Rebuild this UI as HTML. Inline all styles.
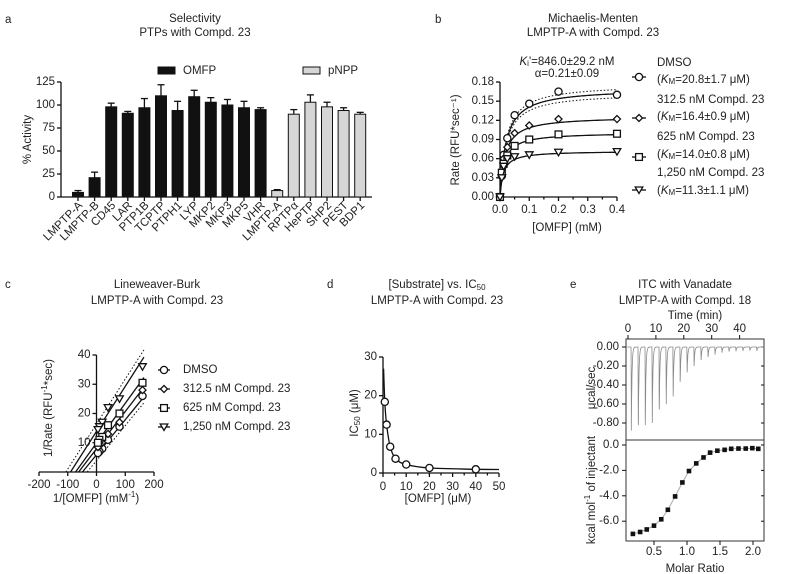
<!DOCTYPE html>
<html><head><meta charset="utf-8">
<style>
html,body{margin:0;padding:0;background:#fff;}
svg{display:block;font-family:"Liberation Sans",Arial,sans-serif;}
text{fill:#222;}
</style></head>
<body>
<svg id="fig" width="800" height="574" viewBox="0 0 800 574" xmlns="http://www.w3.org/2000/svg"></svg>
<script>
// ---------- Panel a data ----------
const aCategories = ["LMPTP-A","LMPTP-B","CD45","LAR","PTP1B","TCPTP","PTPH1","LYP","MKP2","MKP3","MKP5","VHR","LMPTP-A","RPTPα","HePTP","SHP2","PEST","BDP1"];
const aValues = [5,21,98,91,97,110,94,109,103,100,97,95,7,90,103,98,94,90];
const aErrors = [2,6,4,2,10,12,10,7,5,6,7,2,1,5,8,5,3,2];
const aSubstrate = ["OMFP","OMFP","OMFP","OMFP","OMFP","OMFP","OMFP","OMFP","OMFP","OMFP","OMFP","OMFP","pNPP","pNPP","pNPP","pNPP","pNPP","pNPP"];
const aTicks = [0,25,50,75,100,125];
// ---------- Panel b data ----------
const bConc = [0,0.00625,0.0125,0.025,0.05,0.1,0.2,0.4];
const bDMSO = [0,0.033,0.066,0.092,0.128,0.146,0.165,0.160];
const b312 = [0,0.035,0.060,0.078,0.100,0.112,0.122,0.122];
const b625 = [0,0.038,0.052,0.065,0.080,0.090,0.098,0.099];
const b1250 = [0,0.030,0.048,0.060,0.063,0.066,0.070,0.071];
const bVmax = [0.170,0.126,0.101,0.072];
const bKm = [0.0208,0.0164,0.0140,0.0113];
const bYTicks = [0,0.03,0.06,0.09,0.12,0.15,0.18];
const bXTicks = [0,0.1,0.2,0.3,0.4];
const bLegend = ["DMSO","312.5 nM Compd. 23","625 nM Compd. 23","1,250 nM Compd. 23"];
const bLegendKm = ["20.8±1.7","16.4±0.9","14.0±0.8","11.3±1.1"];
// ---------- Panel c data ----------
const cInvS = [160,80,40,20,10,5];
const cDMSO = [26,15.5,11,8,7,6.5];
const c312 = [28,17,13,10,9,8.5];
const c625 = [30.5,20,16,12,11,10];
const c1250 = [36,25,22,17,15.5,14.5];
const cXTicks = [-200,-100,0,100,200];
const cYTicks = [10,20,30,40];
// ---------- Panel d data ----------
const dConc = [0.78,1.56,3.1,5.4,10,20,40];
const dIC50 = [18.4,12.5,6.8,3.7,2.2,1.3,0.96];
const dXTicks = [0,10,20,30,40,50];
const dYTicks = [0,10,20,30];
// ---------- Panel e data ----------
const eInjTimes = [1.1,3.6,6.1,8.6,11.1,13.6,16.1,18.6,21.1,23.6,26.1,28.6,31.1,33.6,36.1,38.6,41.1,43.6,46.1];
const eInjDepth = [-0.88,-0.90,-0.86,-0.80,-0.72,-0.63,-0.52,-0.40,-0.28,-0.20,-0.15,-0.11,-0.08,-0.06,-0.05,-0.045,-0.04,-0.04,-0.04];
const eRatio = [0.18,0.29,0.39,0.50,0.61,0.71,0.82,0.93,1.03,1.14,1.25,1.35,1.46,1.57,1.67,1.78,1.89,1.99,2.08];
const eHeat = [-7.0,-6.85,-6.65,-6.35,-5.85,-5.1,-4.05,-2.95,-2.05,-1.45,-0.98,-0.6,-0.45,-0.38,-0.3,-0.28,-0.28,-0.25,-0.3];
const eTimeTicks = [0,10,20,30,40];
const eUpTicks = [0,-0.2,-0.4,-0.6,-0.8];
const eLowTicks = [0,-2,-4,-6];
const eRatioTicks = [0.5,1.0,1.5,2.0];

const NS = "http://www.w3.org/2000/svg";
const svg = document.getElementById("fig");
function mk(tag, attrs, name, parent) {
  const e = document.createElementNS(NS, tag);
  for (const k in attrs) e.setAttribute(k, attrs[k]);
  
  
  (parent || svg).appendChild(e);
  return e;
}
function txt(x, y, s, name, opts, parent) {
  const o = Object.assign({x:x, y:y, "font-size":11.5, "text-anchor":"middle", "dominant-baseline":"middle"}, opts || {});
  const t = mk("text", o, name, parent);
  t.textContent = s;
  return t;
}
function line(x1,y1,x2,y2,name,opts,parent){
  return mk("line", Object.assign({x1:x1,y1:y1,x2:x2,y2:y2,stroke:"#111","stroke-width":1.3},opts||{}), name, parent);
}
function marker(shape, x, y, name, parent) {
  const st = {fill:"#fff", stroke:"#111", "stroke-width":1.3};
  if (shape === 0) return mk("circle", Object.assign({cx:x, cy:y, r:3.6}, st), name, parent);
  if (shape === 1) return mk("path", Object.assign({d:`M${x} ${y-3.5}L${x+3.5} ${y}L${x} ${y+3.5}L${x-3.5} ${y}Z`}, st), name, parent);
  if (shape === 2) return mk("rect", Object.assign({x:x-3.4, y:y-3.4, width:6.8, height:6.8}, st), name, parent);
  return mk("path", Object.assign({d:`M${x-3.8} ${y-3}L${x+3.8} ${y-3}L${x} ${y+3.5}Z`}, st), name, parent);
}

// ================= Panel a =================
const ga = mk("g", {}, "panel-a-selectivity");
txt(5, 20, "a", "panel-a-label", {"text-anchor":"start"}, ga);
txt(195, 19, "Selectivity", "panel-a-title", {}, ga);
txt(195, 33, "PTPs with Compd. 23", "panel-a-subtitle", {}, ga);
const xa = i => 78 + i * 16.6;
const ya = v => 197 - v * 115 / 125;
line(61, ya(125), 61, 197, "a-y-axis", {}, ga);
line(61, 197, 372, 197, "a-x-axis", {}, ga);
aTicks.forEach(v => {
  line(57, ya(v), 61, ya(v), "a-y-tick", {}, ga);
  txt(55, ya(v), String(v), "a-y-tick-label", {"text-anchor":"end"}, ga);
});
txt(0, 0, "% Activity", "a-y-axis-title", {transform:`translate(28 ${ya(62.5)}) rotate(-90)`}, ga);
aCategories.forEach((c, i) => {
  const cx = xa(i), v = aValues[i], e = aErrors[i];
  const fill = aSubstrate[i] === "OMFP" ? "#111" : "#d6d6d6";
  line(cx, ya(v), cx, ya(v + e), "a-error-bar", {}, ga);
  line(cx - 3.5, ya(v + e), cx + 3.5, ya(v + e), "a-error-cap", {}, ga);
  mk("rect", {x:cx - 5.5, y:ya(v), width:11, height:197 - ya(v), fill:fill, stroke:"#111", "stroke-width":1}, "bar-" + c.toLowerCase(), ga);
  line(cx, 197, cx, 201, "a-x-tick", {}, ga);
  txt(0, 0, c, "a-x-tick-label", {"text-anchor":"end", "dominant-baseline":"auto", transform:`translate(${cx + 5} ${206}) rotate(-45)`}, ga);
});
mk("rect", {x:158, y:67, width:17, height:7, fill:"#111", stroke:"#111"}, "legend-omfp-swatch", ga);
txt(183, 71, "OMFP", "legend-omfp-label", {"text-anchor":"start"}, ga);
mk("rect", {x:303, y:67, width:17, height:7, fill:"#d6d6d6", stroke:"#111"}, "legend-pnpp-swatch", ga);
txt(328, 71, "pNPP", "legend-pnpp-label", {"text-anchor":"start"}, ga);

// ================= Panel b =================
const gb = mk("g", {}, "panel-b-michaelis-menten");
txt(435, 20, "b", "panel-b-label", {"text-anchor":"start"}, gb);
txt(593, 19, "Michaelis-Menten", "panel-b-title", {}, gb);
txt(593, 33, "LMPTP-A with Compd. 23", "panel-b-subtitle", {}, gb);
const xb = v => 500 + v * 117 / 0.4;
const yb = v => 197 - v * 115 / 0.18;
line(500, yb(0.18), 500, 197, "b-y-axis", {}, gb);
line(500, 197, xb(0.4), 197, "b-x-axis", {}, gb);
bYTicks.forEach(v => {
  line(496, yb(v), 500, yb(v), "b-y-tick", {}, gb);
  txt(494, yb(v), v.toFixed(2), "b-y-tick-label", {"text-anchor":"end"}, gb);
});
bXTicks.forEach(v => {
  line(xb(v), 197, xb(v), 201, "b-x-tick", {}, gb);
  txt(xb(v), 210, v.toFixed(1), "b-x-tick-label", {}, gb);
});
for (let v = 0.05; v < 0.4; v += 0.1) line(xb(v), 197, xb(v), 199.5, "b-x-minor-tick", {}, gb);
txt(0, 0, "Rate (RFU*sec⁻¹)", "b-y-axis-title", {transform:`translate(456 140) rotate(-90)`}, gb);
txt(567, 228, "[OMFP] (mM)", "b-x-axis-title", {}, gb);
const ki = txt(567, 62, "", "b-ki-annotation", {}, gb);
ki.innerHTML = '<tspan font-style="italic">K</tspan><tspan font-size="8" dy="2">i</tspan><tspan dy="-2">\'=846.0±29.2 nM</tspan>';
txt(567, 74, "α=0.21±0.09", "b-alpha-annotation", {}, gb);
const bSeries = [bDMSO, b312, b625, b1250];
function mmPath(vmax, km, scale) {
  let d = "";
  for (let s = 0; s <= 0.4001; s += 0.002) {
    const v = vmax * s / (km + s) * scale;
    d += (d ? "L" : "M") + xb(s).toFixed(1) + " " + yb(v).toFixed(1);
  }
  return d;
}
mk("path", {d:mmPath(bVmax[0], bKm[0], 1.04), fill:"none", stroke:"#111", "stroke-width":1, "stroke-dasharray":"1.5 2"}, "b-dmso-ci-upper", gb);
mk("path", {d:mmPath(bVmax[0], bKm[0], 0.96), fill:"none", stroke:"#111", "stroke-width":1, "stroke-dasharray":"1.5 2"}, "b-dmso-ci-lower", gb);
bSeries.forEach((ser, k) => {
  mk("path", {d:mmPath(bVmax[k], bKm[k], 1), fill:"none", stroke:"#111", "stroke-width":1.3}, "b-fit-curve-" + k, gb);
  ser.forEach((v, i) => marker(k, xb(bConc[i]), yb(v), "b-point", gb));
});
const bLegY = [[63, 80, 77], [100, 117, 118], [137, 155, 157], [173, 191, 190]];
bLegend.forEach((s, k) => {
  line(632, bLegY[k][2], 646, bLegY[k][2], "b-legend-line", {}, gb);
  marker(k, 639, bLegY[k][2], "b-legend-marker", gb);
  txt(657, bLegY[k][0], s, "b-legend-label", {"text-anchor":"start"}, gb);
  const t = txt(657, bLegY[k][1], "", "b-legend-km", {"text-anchor":"start"}, gb);
  t.innerHTML = '(<tspan font-style="italic">K</tspan><tspan font-size="8" dy="2">M</tspan><tspan dy="-2">=' + bLegendKm[k] + ' μM)</tspan>';
});

// ================= Panel c =================
const gc = mk("g", {}, "panel-c-lineweaver-burk");
txt(5, 285, "c", "panel-c-label", {"text-anchor":"start"}, gc);
txt(157, 285, "Lineweaver-Burk", "panel-c-title", {}, gc);
txt(157, 301, "LMPTP-A with Compd. 23", "panel-c-subtitle", {}, gc);
const xc = v => 96.5 + v * 0.2875;
const yc = v => 472 - v * 117 / 40;
line(xc(0), yc(40), xc(0), 472, "c-y-axis", {}, gc);
line(xc(-200), 472, xc(200), 472, "c-x-axis", {}, gc);
cYTicks.forEach(v => {
  line(xc(0) - 4, yc(v), xc(0), yc(v), "c-y-tick", {}, gc);
  txt(xc(0) - 6, yc(v), String(v), "c-y-tick-label", {"text-anchor":"end"}, gc);
});
cXTicks.forEach(v => {
  line(xc(v), 472, xc(v), 476, "c-x-tick", {}, gc);
  txt(xc(v), 485, String(v), "c-x-tick-label", {}, gc);
});
const cyl = txt(0, 0, "", "c-y-axis-title", {transform:`translate(49 408) rotate(-90)`}, gc);
cyl.innerHTML = '1/Rate (RFU<tspan font-size="8" dy="-4">-1</tspan><tspan dy="4">*sec)</tspan>';
const cxl = txt(96, 499, "", "c-x-axis-title", {}, gc);
cxl.innerHTML = '1/[OMFP] (mM<tspan font-size="8" dy="-4">-1</tspan><tspan dy="4">)</tspan>';
const cSeries = [cDMSO, c312, c625, c1250];
function lbLine(k, off, dash, name) {
  const slope = bKm[k] / bVmax[k] * 0.98, icpt = 1 / bVmax[k] * 1.0 + off;
  const x0 = -icpt / slope, x1 = 165;
  const opts = dash ? {"stroke-width":1, "stroke-dasharray":"1.5 2"} : {};
  line(xc(x0), yc(0), xc(x1), yc(slope * x1 + icpt), name, opts, gc);
}
lbLine(3, 2.5, true, "c-1250-ci-upper");
lbLine(0, -2, true, "c-dmso-ci-lower");
cSeries.forEach((ser, k) => {
  lbLine(k, 0, false, "c-fit-line-" + k);
  ser.forEach((v, i) => marker(k, xc(cInvS[i]), yc(v), "c-point", gc));
});
const cLegY = [370, 389, 408, 427];
bLegend.forEach((s, k) => {
  line(158, cLegY[k], 170, cLegY[k], "c-legend-line", {}, gc);
  marker(k, 164, cLegY[k], "c-legend-marker", gc);
  txt(183, cLegY[k], s, "c-legend-label", {"text-anchor":"start"}, gc);
});

// ================= Panel d =================
const gd = mk("g", {}, "panel-d-ic50");
txt(327, 285, "d", "panel-d-label", {"text-anchor":"start"}, gd);
const dt = txt(437, 285, "", "panel-d-title", {}, gd);
dt.innerHTML = '[Substrate] vs. IC<tspan font-size="8" dy="3">50</tspan>';
txt(437, 301, "LMPTP-A with Compd. 23", "panel-d-subtitle", {}, gd);
const xd = v => 383 + v * 116 / 50;
const yd = v => 473 - v * 116 / 30;
line(383, yd(30), 383, 473, "d-y-axis", {}, gd);
line(383, 473, xd(50), 473, "d-x-axis", {}, gd);
dYTicks.forEach(v => {
  line(379, yd(v), 383, yd(v), "d-y-tick", {}, gd);
  txt(377, yd(v), String(v), "d-y-tick-label", {"text-anchor":"end"}, gd);
});
dXTicks.forEach(v => {
  line(xd(v), 473, xd(v), 477, "d-x-tick", {}, gd);
  txt(xd(v), 487, String(v), "d-x-tick-label", {}, gd);
});
for (let v = 5; v < 50; v += 10) line(xd(v), 473, xd(v), 475.5, "d-x-minor-tick", {}, gd);
const dyl = txt(0, 0, "", "d-y-axis-title", {transform:`translate(355 413) rotate(-90)`}, gd);
dyl.innerHTML = 'IC<tspan font-size="8" dy="3">50</tspan><tspan dy="-3"> (μM)</tspan>';
txt(438, 499, "[OMFP] (μM)", "d-x-axis-title", {}, gd);
{
  const px = [[xd(0.25), yd(27)]].concat(dConc.map((c, i) => [xd(c), yd(dIC50[i])])).concat([[xd(50), yd(0.9)]]);
  let d = "M" + px[0][0] + " " + px[0][1];
  for (let i = 0; i < px.length - 1; i++) {
    const p0 = px[Math.max(0, i - 1)], p1 = px[i], p2 = px[i + 1], p3 = px[Math.min(px.length - 1, i + 2)];
    const c1x = p1[0] + (p2[0] - p0[0]) / 6, c1y = p1[1] + (p2[1] - p0[1]) / 6;
    const c2x = p2[0] - (p3[0] - p1[0]) / 6, c2y = p2[1] - (p3[1] - p1[1]) / 6;
    d += `C${c1x.toFixed(1)} ${c1y.toFixed(1)} ${c2x.toFixed(1)} ${c2y.toFixed(1)} ${p2[0].toFixed(1)} ${p2[1].toFixed(1)}`;
  }
  mk("path", {d:d, fill:"none", stroke:"#111", "stroke-width":1.3}, "d-fit-curve", gd);
}
dConc.forEach((c, i) => marker(0, xd(c), yd(dIC50[i]), "d-point", gd));

// ================= Panel e =================
const ge = mk("g", {}, "panel-e-itc");
txt(570, 285, "e", "panel-e-label", {"text-anchor":"start"}, ge);
txt(685, 285, "ITC with Vanadate", "panel-e-title", {}, ge);
txt(685, 301, "LMPTP-A with Compd. 18", "panel-e-subtitle", {}, ge);
const xt = t => 628 + t * 2.79;
const yu = v => 347 - v * 95;
const xr = r => 654 + (r - 0.5) * 66;
const yl = v => 445 - v * 12.7;
mk("rect", {x:626, y:339, width:138, height:101, fill:"none", stroke:"#333", "stroke-width":1}, "e-upper-frame", ge);
mk("rect", {x:626, y:440, width:138, height:101, fill:"none", stroke:"#333", "stroke-width":1}, "e-lower-frame", ge);
txt(695, 316, "Time (min)", "e-top-axis-title", {}, ge);
eTimeTicks.forEach(t => {
  line(xt(t), 339, xt(t), 335, "e-time-tick", {"stroke-width":1}, ge);
  txt(xt(t), 329, String(t), "e-time-tick-label", {}, ge);
});
eUpTicks.forEach(v => {
  line(626, yu(v), 622, yu(v), "e-upper-y-tick", {"stroke-width":1}, ge);
  line(764, yu(v), 761, yu(v), "e-upper-y-tick-right", {"stroke-width":1}, ge);
  txt(619, yu(v), v.toFixed(2), "e-upper-y-tick-label", {"text-anchor":"end"}, ge);
});
eLowTicks.forEach(v => {
  line(626, yl(v), 622, yl(v), "e-lower-y-tick", {"stroke-width":1}, ge);
  line(764, yl(v), 761, yl(v), "e-lower-y-tick-right", {"stroke-width":1}, ge);
  txt(619, yl(v), v.toFixed(1), "e-lower-y-tick-label", {"text-anchor":"end"}, ge);
});
eRatioTicks.forEach(r => {
  line(xr(r), 541, xr(r), 545, "e-ratio-tick", {"stroke-width":1}, ge);
  txt(xr(r), 552, r.toFixed(1), "e-ratio-tick-label", {}, ge);
});
txt(695, 569, "Molar Ratio", "e-x-axis-title", {}, ge);
txt(0, 0, "μcal/sec", "e-upper-y-axis-title", {transform:`translate(592 388) rotate(-90)`}, ge);
const eyl = txt(0, 0, "", "e-lower-y-axis-title", {transform:`translate(592 490) rotate(-90)`}, ge);
eyl.innerHTML = 'kcal mol<tspan font-size="8" dy="-4">-1</tspan><tspan dy="4"> of injectant</tspan>';
{
  let d = "";
  for (let t = -0.3; t <= 49; t += 0.03) {
    let v = 0;
    eInjTimes.forEach((ti, i) => {
      const dt = t - ti;
      if (dt >= 0 && dt < 0.1) v += eInjDepth[i] * dt / 0.1;
      else if (dt >= 0.1) v += eInjDepth[i] * Math.exp(-(dt - 0.1) / 0.22);
    });
    d += (d ? "L" : "M") + xt(t).toFixed(1) + " " + yu(v).toFixed(1);
  }
  mk("path", {d:d, fill:"none", stroke:"#8a8a8a", "stroke-width":0.8}, "e-raw-thermogram", ge);
}
{
  let d = "";
  eRatio.forEach((r, i) => { d += (i ? "L" : "M") + xr(r).toFixed(1) + " " + yl(eHeat[i]).toFixed(1); });
  mk("path", {d:d, fill:"none", stroke:"#aaa", "stroke-width":1}, "e-binding-fit", ge);
}
eRatio.forEach((r, i) => {
  mk("rect", {x:xr(r) - 2.3, y:yl(eHeat[i]) - 2.3, width:4.6, height:4.6, fill:"#111"}, "e-heat-point", ge);
});
</script>
</body></html>
